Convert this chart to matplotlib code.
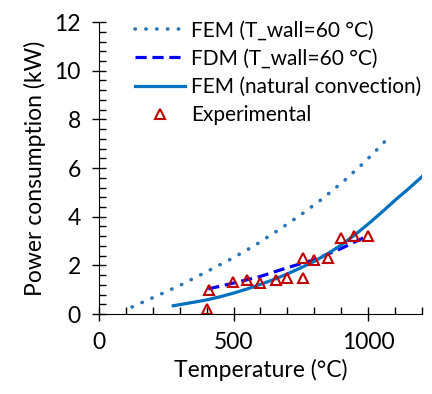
import matplotlib as mpl
mpl.use('Agg')
import matplotlib.pyplot as plt
from matplotlib.ticker import MultipleLocator

plt.rcParams['font.family'] = ['Lato', 'DejaVu Sans']

# FEM, wall at 60 C
fem_wall_T = [123, 216, 309, 398, 492, 579, 665, 749, 830, 910, 985, 1032, 1080]
fem_wall_P = [0.29, 0.75, 1.22, 1.73, 2.27, 2.82, 3.44, 4.07, 4.74, 5.47, 6.23, 6.75, 7.3]

# FDM, wall at 60 C
fdm_T = [406, 499, 601, 704, 800, 903, 993]
fdm_P = [1.03, 1.27, 1.55, 1.92, 2.23, 2.71, 3.19]

# FEM, natural convection
fem_nat_T = [276, 350, 400, 450, 500, 550, 600, 650, 700, 750, 800, 850, 900, 950,
             1000, 1050, 1100, 1150, 1200]
fem_nat_P = [0.34, 0.48, 0.58, 0.71, 0.86, 1.03, 1.22, 1.42, 1.65, 1.9, 2.17, 2.48,
             2.84, 3.25, 3.7, 4.18, 4.68, 5.15, 5.65]

# experiments
exp_T = [400, 409, 499, 549, 600, 658, 699, 757, 759, 799, 850, 899, 949, 1000]
exp_P = [0.2, 0.97, 1.32, 1.38, 1.27, 1.41, 1.49, 2.3, 1.49, 2.23, 2.32, 3.14, 3.19, 3.19]

fig = plt.figure(figsize=(4.32, 3.94), dpi=100)
ax = fig.add_axes([0.229, 0.203, 0.748, 0.741])

ax.plot(fem_wall_T, fem_wall_P, color='#2E75B6', lw=2.6, linestyle=(0, (0.1, 2.9)),
        dash_capstyle='round', label='FEM (T_wall=60 °C)')
ax.plot(fdm_T, fdm_P, color='#0000FF', lw=2.3, linestyle=(0, (3.5, 1.8)),
        label='FDM (T_wall=60 °C)')
ax.plot(fem_nat_T, fem_nat_P, color='#0070C0', lw=2.3, label='FEM (natural convection)')
ax.plot(exp_T, exp_P, linestyle='none', marker='^', ms=7, mfc='none', mec='#C00000',
        mew=1.5, label='Experimental')

ax.set_xlim(0, 1200)
ax.set_ylim(0, 12)
ax.xaxis.set_major_locator(MultipleLocator(500))
ax.xaxis.set_minor_locator(MultipleLocator(100))
ax.yaxis.set_major_locator(MultipleLocator(2))
ax.yaxis.set_minor_locator(MultipleLocator(0.4))
ax.tick_params(which='major', direction='inout', length=10, width=1, labelsize=16.5, pad=8)
ax.tick_params(which='minor', direction='in', length=5, width=1)
ax.spines['top'].set_visible(False)
ax.spines['right'].set_visible(False)

ax.set_xlabel('Temperature (°C)', fontsize=16.5, labelpad=4)
ax.set_ylabel('Power consumption (kW)', fontsize=16.5, labelpad=6)

ax.legend(loc='upper left', bbox_to_anchor=(0.085, 1.035), frameon=False, fontsize=15,
          handlelength=2.4, handletextpad=0.3, labelspacing=0.4, borderaxespad=0)

fig.savefig('out.png', dpi=100)
